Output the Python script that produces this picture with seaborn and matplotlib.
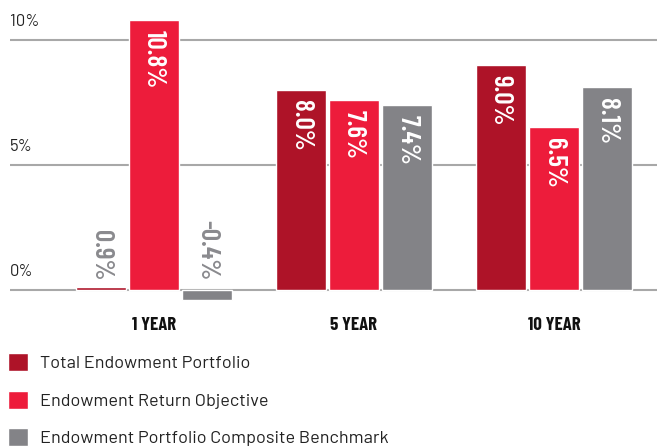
import matplotlib
matplotlib.use("Agg")
import matplotlib.pyplot as plt
import seaborn as sns
import pandas as pd
from matplotlib.transforms import blended_transform_factory

periods = ["1 YEAR", "5 YEAR", "10 YEAR"]
series = ["Total Endowment Portfolio", "Endowment Return Objective",
          "Endowment Portfolio Composite Benchmark"]
total_portfolio = [0.12, 8.0, 9.0]
return_objective = [10.8, 7.6, 6.5]
benchmark = [-0.4, 7.4, 8.1]
labels_total = ["0.9%", "8.0%", "9.0%"]
labels_objective = ["10.8%", "7.6%", "6.5%"]
labels_benchmark = ["-0.4%", "7.4%", "8.1%"]
y_ticks = [0, 5, 10]
y_tick_labels = ["0%", "5%", "10%"]
colors = ["#AE1328", "#ED1C3B", "#838387"]

sns.set_theme(style="white")
plt.rcParams["font.family"] = ["Barlow", "DejaVu Sans"]
cond = ["Barlow Condensed", "DejaVu Sans"]

rows = []
for vals, s in zip([total_portfolio, return_objective, benchmark], series):
    for p, v in zip(periods, vals):
        rows.append({"period": p, "series": s, "value": v})
df = pd.DataFrame(rows)

fig = plt.figure(figsize=(6.57, 4.47), dpi=100)
ax_bottom_px = 305
ax = fig.add_axes([10 / 657, (447 - ax_bottom_px) / 447, 647 / 657, ax_bottom_px / 447])

sns.barplot(data=df, x="period", y="value", hue="series", order=periods,
            hue_order=series, palette=colors, width=0.8, gap=0.06,
            saturation=1, ax=ax, legend=True, zorder=3)

ax.set_ylim(-0.6, 11.6)
ax.set_xlim(-0.72, 2.515)
for t in y_ticks:
    ax.axhline(t, color="#a8a8a8", lw=1.5, zorder=1)
for sp in ax.spines.values():
    sp.set_visible(False)
ax.set_yticks([])
ax.set_xlabel("")
ax.set_ylabel("")
ax.tick_params(axis="x", length=0, pad=9)
ax.set_xticks(range(len(periods)))
ax.set_xticklabels(periods, fontfamily=cond, fontweight="bold", fontsize=13.5,
                   color="#111111")

trans = blended_transform_factory(ax.transAxes, ax.transData)
for t, lab in zip(y_ticks, y_tick_labels):
    ax.text(0.0, t + 0.45, lab, transform=trans, ha="left", va="bottom",
            fontsize=12, color="#222222")

all_labels = [labels_total, labels_objective, labels_benchmark]
all_vals = [total_portfolio, return_objective, benchmark]
for container, labs, vals in zip(ax.containers, all_labels, all_vals):
    for bar, lab, v in zip(container, labs, vals):
        xc = bar.get_x() + bar.get_width() / 2
        if v > 1:
            ax.text(xc, v - 0.4, lab, rotation=-90, ha="center", va="top",
                    color="white", fontsize=19.5, fontweight=600, fontfamily=cond,
                    zorder=5)
        else:
            ax.text(xc, 0.4, lab, rotation=-90, ha="center", va="bottom",
                    color="#8a8a8e", fontsize=19.5, fontweight=600, fontfamily=cond,
                    zorder=5)

handles, lbls = ax.get_legend_handles_labels()
ax.get_legend().remove()
fig.legend(handles, lbls, loc="upper left", bbox_to_anchor=(-0.013, (447 - 337) / 447),
           frameon=False, fontsize=13, handlelength=1.15, handleheight=1.15,
           handletextpad=0.65, labelspacing=1.07, labelcolor="#222222")

fig.savefig("out.png", dpi=100)
